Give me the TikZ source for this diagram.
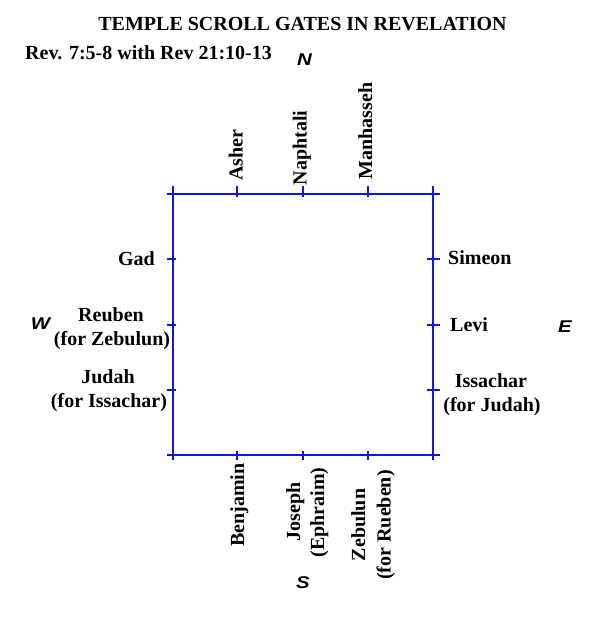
\documentclass[tikz,border=0pt]{standalone}
\usepackage{fontspec}
\setmainfont{Liberation Serif}
\setsansfont{Liberation Sans}
\definecolor{wallblue}{RGB}{20,20,225}
\begin{document}
\begin{tikzpicture}[x=1pt,y=-1pt,
  lbl/.style={font=\fontsize{20}{24}\selectfont\bfseries, inner sep=0pt, anchor=base},
  vlbl/.style={lbl, rotate=90},
  cmp/.style={font=\fontsize{17}{20}\selectfont\sffamily\bfseries\itshape, inner sep=0pt, xscale=1.2},
  wall/.style={draw=wallblue, line width=2pt},
  tick/.style={draw=wallblue, line width=2pt}]
\useasboundingbox (0,0) rectangle (600,617);
% title
\node[lbl] (title) at (302.5,31) {TEMPLE SCROLL GATES IN REVELATION};
\node[lbl, anchor=base west] (sub) at (25,60) {Rev. 7:5-8 with Rev 21:10-13};
% compass
\node[cmp] (N) at (304.5,60) {N};
\node[cmp] (W) at (40.5,324) {W};
\node[cmp] (E) at (565,327) {E};
\node[cmp] (S) at (303,583) {S};
% walls
\draw[wall] (167,194) -- (440,194);
\draw[wall] (167,455) -- (440,455);
\draw[wall] (173,186) -- (173,460);
\draw[wall] (433,186) -- (433,460);
% ticks
\foreach \x in {237,303,368} {
  \draw[tick] (\x,186) -- (\x,197);
  \draw[tick] (\x,451) -- (\x,460);
}
\foreach \y in {259,325,390} {
  \draw[tick] (167,\y) -- (176,\y);
  \draw[tick] (427,\y) -- (440,\y);
}
% north
\node[vlbl] (asher) at (242.5,155) {Asher};
\node[vlbl] (naph) at (306.5,148) {Naphtali};
\node[vlbl] (manh) at (372,131) {Manhasseh};
% south
\node[vlbl] (benj) at (244,505) {Benjamin};
\node[vlbl] (jos1) at (300,512) {Joseph};
\node[vlbl] (jos2) at (324,512.5) {(Ephraim)};
\node[vlbl] (zeb1) at (365,525) {Zebulun};
\node[vlbl] (zeb2) at (390.5,525) {(for Rueben)};
% west
\node[lbl, anchor=base east] (gad) at (155,265.7) {Gad};
\node[lbl] (reu1) at (111,321.7) {Reuben};
\node[lbl] (reu2) at (112,345) {(for Zebulun)};
\node[lbl] (jud1) at (108,383.3) {Judah};
\node[lbl] (jud2) at (109,407) {(for Issachar)};
% east
\node[lbl, anchor=base west] (sim) at (448,264) {Simeon};
\node[lbl, anchor=base west] (levi) at (450,331) {Levi};
\node[lbl] (iss1) at (491,387.5) {Issachar};
\node[lbl] (iss2) at (492,411.5) {(for Judah)};
\end{tikzpicture}
\end{document}
